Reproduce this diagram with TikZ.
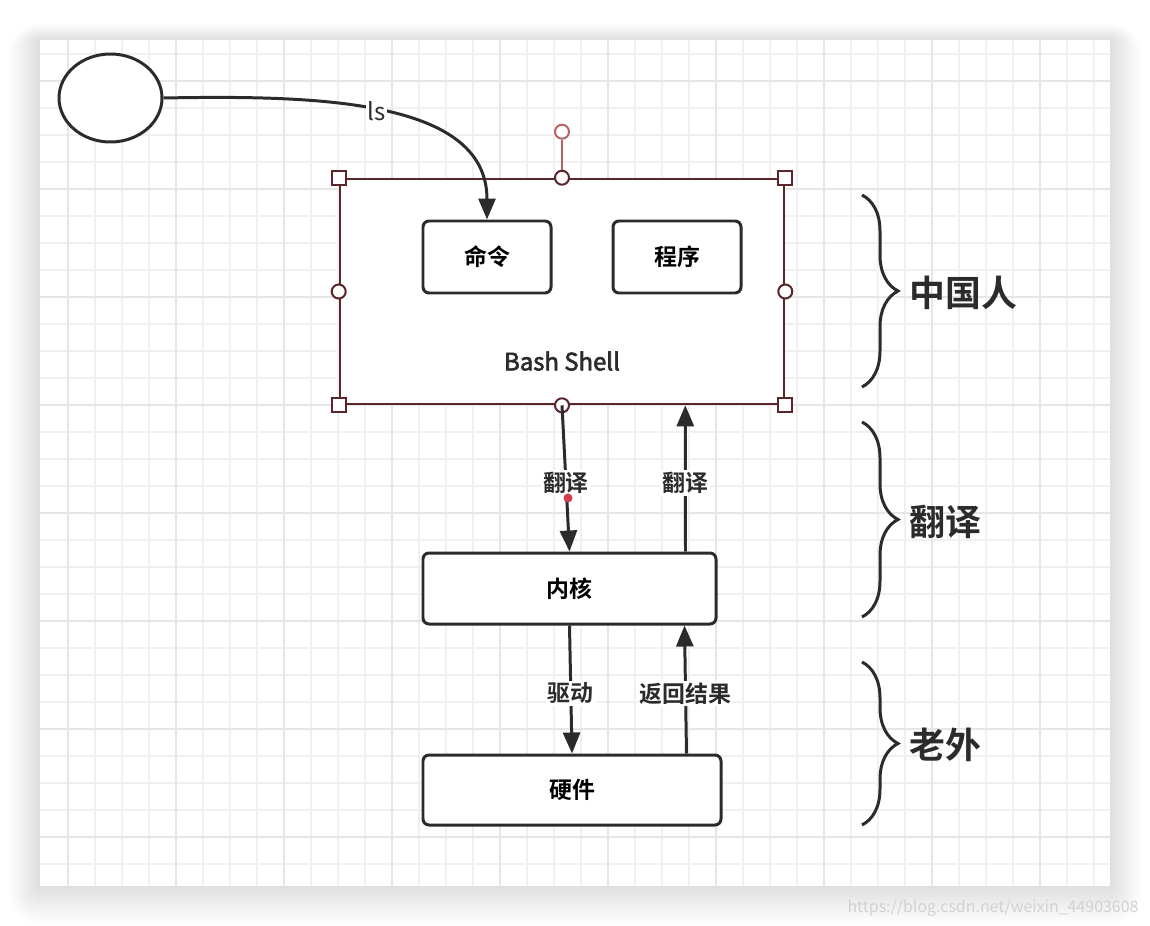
\documentclass[tikz,border=0pt]{standalone}
\usepackage{fontspec}
\setmainfont{Noto Sans CJK SC}[BoldFont=* Bold]
\newfontfamily\medfont{Noto Sans CJK SC}[FakeBold=2.5]
\usetikzlibrary{shapes.geometric, positioning, arrows.meta, decorations.pathreplacing}

\definecolor{ink}{HTML}{2B2B2B}
\definecolor{selred}{HTML}{5A2629}
\definecolor{rotred}{HTML}{B46464}
\definecolor{gridminor}{HTML}{F0F0F0}
\definecolor{gridmajor}{HTML}{E6E6E6}
\definecolor{dotred}{HTML}{D0404C}

\tikzset{
  box/.style={draw=ink, line width=3, rounded corners=6, fill=white, inner sep=0,
    font=\fontsize{23}{27}\selectfont\bfseries},
  shellbox/.style={draw=selred, line width=2.6, fill=white, inner sep=0,
    minimum width=444bp, minimum height=225bp},
  flow/.style={draw=ink, line width=3, -{Triangle[length=21bp, width=17bp]}},
  lbl/.style={fill=white, inner sep=2, text=ink, font=\fontsize{23}{27}\selectfont\bfseries},
  tag/.style={anchor=west, text=ink, font=\fontsize{36}{40}\selectfont\bfseries},
  bracket/.style={draw=ink, line width=3, decorate, decoration={brace, amplitude=36bp}},
  sqhandle/.style={draw=selred, line width=2, fill=white, minimum size=14bp, inner sep=0},
  rdhandle/.style={circle, draw=selred, line width=2, fill=white, minimum size=14bp, inner sep=0},
  rothandle/.style={circle, draw=rotred, line width=2, fill=white, minimum size=14bp, inner sep=0},
  dotmark/.style={circle, fill=dotred, minimum size=9bp, inner sep=0}
}

\begin{document}
\begin{tikzpicture}[x=1bp, y=-1bp, on grid]
  \useasboundingbox (0,0) rectangle (1150,926);
  \fill[white] (0,0) rectangle (1150,926);

  % canvas shadow and grid
  \foreach \s in {1,...,32}
    \fill[black, opacity=0.003, rounded corners=\s] (40-\s,40-0.5*\s) rectangle (1110+\s,886+1.2*\s);
  \fill[white] (40,40) rectangle (1110,886);
  \foreach \gx in {68,95,...,1094}
    \draw[gridminor, line width=1.4] (\gx,40) -- (\gx,886);
  \foreach \gy in {54,81,...,864}
    \draw[gridminor, line width=1.4] (40,\gy) -- (1110,\gy);
  \foreach \gx in {68,176,...,1040}
    \draw[gridmajor, line width=1.6] (\gx,40) -- (\gx,886);
  \foreach \gy in {81,189,...,837}
    \draw[gridmajor, line width=1.6] (40,\gy) -- (1110,\gy);

  % nodes
  \node[ellipse, draw=ink, line width=3, fill=white, minimum width=103bp, minimum height=88bp] (user) at (110.5,98) {};
  \node[shellbox] (shell) at (562,291.5) {};
  \node[text=ink, font=\fontsize{24}{28}\medfont] (bash) at (562,361) {Bash Shell};
  \node[box, minimum width=128bp, minimum height=72bp] (cmd) at (487,257) {命令};
  \node[box, minimum width=128bp, minimum height=72bp] (prog) [right=190bp of cmd] {程序};
  \node[box, minimum width=293bp, minimum height=71bp] (kernel) at (569.5,588.5) {内核};
  \node[box, minimum width=298bp, minimum height=70bp] (hw) [below=201.5bp of kernel, xshift=2.5bp] {硬件};

  % selection handles
  \node[rothandle] (rot) [above=38bp of shell.north] {};
  \draw[rotred, line width=2] (shell.north) -- (rot);
  \foreach \a/\n in {north west/1, north east/2, south west/3, south east/4}
    \node[sqhandle] (sq\n) at (shell.\a) {};
  \foreach \a/\n in {north/1, south/2, east/3, west/4}
    \node[rdhandle] (rd\n) at (shell.\a) {};

  % connectors
  \draw[flow] (user.east) .. controls (320,95) and (487,100) .. (cmd.north)
    node[pos=0.48, fill=white, inner sep=2, text=ink, font=\fontsize{24}{28}\selectfont] (ls) {ls};
  \draw[flow] (shell.south) -- (kernel.north) node[lbl, pos=0.53] (t1) {翻译};
  \draw[flow] ([xshift=-32bp]kernel.north east) -- ([xshift=-100bp]shell.south east) node[lbl, pos=0.47] (t2) {翻译};
  \draw[flow] (kernel.south) -- (hw.north) node[lbl, pos=0.53] (t3) {驱动};
  \draw[flow] ([xshift=-36bp]hw.north east) -- ([xshift=-33bp]kernel.south east) node[lbl, pos=0.47] (t4) {返回结果};
  \node[dotmark] (reddot) at (568,498) {};

  % braces
  \draw[bracket] (862,195) -- (862,387);
  \draw[bracket] (862,422) -- (862,617);
  \draw[bracket] (862,662) -- (862,825);
  \node[tag] (cn) at (906,293) {中国人};
  \node[tag] (tr) at (906,522) {翻译};
  \node[tag] (fo) at (906,745) {老外};

  % watermark
  \node[anchor=east, text=gray!35, font=\fontsize{16}{18}\selectfont] (wm) at (1142,908) {https://blog.csdn.net/weixin\_44903608};
\end{tikzpicture}
\end{document}
